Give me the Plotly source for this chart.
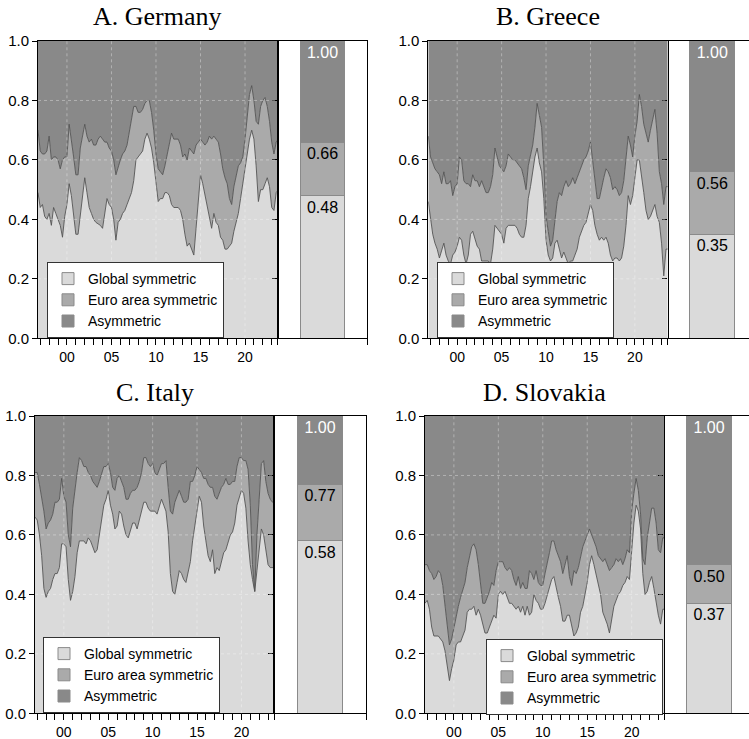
import plotly.graph_objects as go

# ---------------- data ----------------
quarters = [1996.75 + 0.25 * i for i in range(109)]
series_names = ["Global symmetric", "Euro area symmetric", "Asymmetric"]

# cumulative shares: global symmetric, global + euro area symmetric
de_global = [.49,.44,.45,.41,.40,.42,.38,.44,.42,.40,
             .38,.34,.41,.45,.52,.48,.41,.35,.35,.42,
             .48,.54,.49,.44,.42,.40,.39,.385,.38,.37,
             .42,.47,.45,.44,.40,.33,.39,.40,.42,.43,
             .45,.47,.49,.53,.60,.61,.62,.63,.67,.69,
             .67,.64,.59,.52,.46,.47,.47,.49,.49,.48,
             .45,.44,.44,.44,.43,.40,.35,.31,.32,.30,
             .28,.37,.46,.55,.52,.48,.45,.41,.37,.42,
             .39,.38,.34,.33,.30,.30,.31,.32,.36,.39,
             .42,.47,.52,.56,.62,.67,.70,.67,.58,.46,
             .50,.50,.52,.54,.51,.44,.43,.49,.50]
de_euro = [.70,.63,.62,.62,.63,.68,.60,.61,.61,.60,
           .57,.60,.61,.61,.72,.67,.61,.55,.55,.64,
           .68,.72,.68,.66,.67,.65,.65,.67,.68,.67,
           .66,.66,.64,.63,.60,.55,.58,.60,.62,.63,
           .65,.69,.74,.78,.78,.76,.76,.77,.79,.80,
           .80,.76,.70,.62,.57,.56,.55,.58,.62,.65,
           .69,.67,.67,.67,.65,.61,.62,.60,.64,.63,
           .62,.65,.66,.67,.66,.65,.66,.68,.67,.68,
           .67,.66,.62,.57,.54,.52,.47,.45,.51,.54,
           .58,.59,.61,.67,.75,.82,.85,.80,.73,.72,
           .78,.80,.81,.78,.73,.66,.62,.66,.67]
de_avg = [0.48, 0.66, 1.00]

gr_global = [.46,.41,.35,.32,.30,.27,.30,.32,.28,.26,
             .25,.28,.29,.31,.34,.33,.28,.25,.28,.35,
             .36,.33,.31,.30,.26,.26,.26,.26,.25,.30,
             .38,.37,.36,.35,.32,.37,.38,.38,.38,.38,
             .37,.35,.34,.34,.38,.47,.51,.57,.61,.64,
             .59,.56,.47,.33,.28,.26,.27,.32,.33,.30,
             .27,.29,.27,.25,.26,.26,.28,.30,.34,.36,
             .38,.39,.42,.45,.43,.38,.35,.33,.34,.33,
             .34,.32,.28,.26,.27,.27,.26,.27,.31,.38,
             .48,.45,.48,.54,.60,.60,.55,.49,.43,.40,
             .41,.43,.45,.41,.39,.32,.21,.30,.30]
gr_euro = [.68,.61,.59,.57,.56,.55,.52,.56,.52,.52,
           .53,.48,.51,.52,.61,.60,.53,.52,.52,.51,
           .55,.53,.53,.51,.53,.51,.49,.49,.51,.55,
           .64,.61,.58,.57,.56,.58,.62,.61,.60,.60,
           .59,.58,.57,.54,.50,.58,.61,.65,.71,.79,
           .75,.71,.58,.41,.36,.31,.33,.39,.46,.49,
           .48,.51,.53,.51,.52,.54,.52,.54,.56,.58,
           .60,.61,.63,.66,.60,.53,.47,.47,.51,.54,
           .57,.56,.54,.50,.51,.50,.48,.49,.53,.60,
           .68,.65,.61,.68,.73,.82,.78,.72,.69,.66,
           .70,.73,.77,.69,.56,.52,.45,.51,.51]
gr_avg = [0.35, 0.56, 1.00]

it_global = [.66,.65,.60,.53,.42,.39,.41,.42,.45,.47,
             .47,.49,.57,.57,.56,.45,.38,.41,.46,.54,
             .58,.58,.58,.57,.59,.58,.56,.54,.55,.60,
             .65,.70,.72,.75,.70,.67,.62,.63,.68,.67,
             .63,.60,.59,.62,.64,.64,.62,.65,.68,.71,
             .71,.69,.68,.68,.68,.67,.70,.72,.70,.68,
             .61,.47,.41,.40,.44,.48,.47,.45,.44,.47,
             .51,.58,.63,.68,.73,.71,.63,.58,.53,.51,
             .55,.47,.49,.48,.51,.54,.55,.58,.60,.61,
             .64,.70,.73,.75,.74,.69,.58,.50,.45,.41,
             .48,.54,.62,.60,.55,.50,.49,.49,.49]
it_euro = [.81,.81,.77,.73,.68,.62,.64,.65,.67,.71,
           .71,.72,.79,.73,.71,.60,.56,.69,.76,.81,
           .86,.85,.83,.83,.81,.80,.78,.77,.76,.78,
           .81,.83,.83,.84,.81,.76,.75,.79,.80,.78,
           .76,.72,.72,.74,.75,.75,.76,.78,.81,.86,
           .86,.84,.83,.84,.81,.80,.82,.84,.84,.85,
           .76,.68,.67,.71,.73,.75,.73,.71,.71,.72,
           .78,.78,.80,.83,.82,.81,.79,.79,.77,.76,
           .76,.73,.72,.74,.76,.77,.79,.77,.77,.78,
           .78,.83,.86,.86,.85,.85,.82,.70,.50,.41,
           .60,.72,.84,.85,.78,.74,.72,.71,.71]
it_avg = [0.58, 0.77, 1.00]

sk_global = [.37,.38,.35,.29,.26,.26,.26,.25,.24,.21,
             .16,.11,.15,.18,.23,.24,.24,.26,.28,.34,
             .35,.35,.36,.33,.35,.33,.30,.27,.27,.29,
             .31,.33,.32,.40,.41,.40,.41,.39,.37,.37,
             .36,.35,.36,.34,.36,.33,.36,.33,.34,.40,
             .38,.37,.35,.35,.37,.40,.42,.45,.46,.42,
             .39,.36,.31,.31,.33,.33,.29,.26,.27,.29,
             .34,.36,.40,.44,.50,.53,.50,.47,.44,.40,
             .34,.32,.30,.27,.32,.36,.38,.40,.41,.43,
             .44,.46,.45,.56,.64,.70,.68,.62,.47,.40,
             .41,.44,.46,.42,.37,.33,.30,.35,.35]
sk_euro = [.50,.50,.48,.47,.45,.46,.48,.47,.43,.37,
           .30,.23,.25,.29,.33,.36,.39,.42,.44,.49,
           .52,.56,.57,.55,.50,.43,.37,.37,.39,.41,
           .44,.43,.48,.51,.51,.51,.49,.48,.49,.48,
           .45,.43,.46,.42,.44,.42,.42,.48,.47,.45,
           .48,.44,.43,.43,.47,.50,.54,.58,.58,.55,
           .53,.51,.47,.50,.53,.46,.43,.48,.47,.49,
           .53,.56,.58,.60,.62,.60,.58,.56,.53,.52,
           .51,.52,.50,.48,.49,.50,.52,.51,.52,.50,
           .52,.55,.54,.68,.74,.79,.75,.67,.52,.50,
           .59,.65,.69,.69,.64,.55,.54,.59,.59]
sk_avg = [0.37, 0.50, 1.00]

panel_titles = ["A. Germany", "B. Greece", "C. Italy", "D. Slovakia"]
year_ticks = list(range(1997, 2024))
year_labels = [f"{y % 100:02d}" if y % 5 == 0 else "" for y in year_ticks]
share_ticks = [0.0, 0.2, 0.4, 0.6, 0.8, 1.0]

# ---------------- style ----------------
C_LIGHT, C_MID, C_DARK = "#dadada", "#aaaaaa", "#898989"
EDGE = "#545454"
SANS = "Liberation Sans"
SERIF = "Liberation Serif"
W, H = 749, 739

panels = [
    dict(title=panel_titles[0], g=de_global, e=de_euro, avg=de_avg,
         main=(38.0, 277.7), side=(277.7, 367.3), srange=[-1, 1], row=0,
         leg=(47, 262), sidebox=True, bw=1.0),
    dict(title=panel_titles[1], g=gr_global, e=gr_euro, avg=gr_avg,
         main=(428.3, 667.5), side=(667.5, 749.0), srange=[-1, 0.82], row=0,
         leg=(437, 262), sidebox=False, bw=1.0),
    dict(title=panel_titles[2], g=it_global, e=it_euro, avg=it_avg,
         main=(35.0, 274.0), side=(274.0, 366.0), srange=[-1, 1], row=1,
         leg=(43, 637), sidebox=True, bw=0.96),
    dict(title=panel_titles[3], g=sk_global, e=sk_euro, avg=sk_avg,
         main=(425.0, 664.3), side=(664.3, 749.0), srange=[-1, 0.89], row=1,
         leg=(486, 639), sidebox=False, bw=1.0),
]
rows_px = [(41.0, 338.3), (416.0, 713.3)]
title_y_px = [17, 392]

fig = go.Figure()
layout = dict(width=W, height=H, margin=dict(l=0, r=0, t=0, b=0, autoexpand=False),
              paper_bgcolor="white", plot_bgcolor="white",
              barmode="stack", showlegend=True, shapes=[], annotations=[])

def px_x(v):
    return v / W

def px_y(v):
    return 1 - v / H

for i, p in enumerate(panels):
    mi = 2 * i + 1
    si = 2 * i + 2
    mx = "x" if mi == 1 else f"x{mi}"
    my = "y" if mi == 1 else f"y{mi}"
    sx, sy = f"x{si}", f"y{si}"
    legname = "legend" if i == 0 else f"legend{i + 1}"
    top, bot = rows_px[p["row"]]
    ydom = [px_y(bot), px_y(top)]

    total = [1.0 for _ in quarters]
    fig.add_trace(go.Scatter(x=quarters, y=p["g"], xaxis=mx, yaxis=my, mode="lines",
                             line=dict(color=EDGE, width=0.9), fill="tozeroy",
                             fillcolor=C_LIGHT, showlegend=False, hoverinfo="skip"))
    fig.add_trace(go.Scatter(x=quarters, y=p["e"], xaxis=mx, yaxis=my, mode="lines",
                             line=dict(color=EDGE, width=0.9), fill="tonexty",
                             fillcolor=C_MID, showlegend=False, hoverinfo="skip"))
    fig.add_trace(go.Scatter(x=quarters, y=total, xaxis=mx, yaxis=my, mode="lines",
                             line=dict(color=C_DARK, width=0), fill="tonexty",
                             fillcolor=C_DARK, showlegend=False, hoverinfo="skip"))

    # side bar: average shares (cumulative)
    prev = 0.0
    cols = [C_LIGHT, C_MID, C_DARK]
    tcols = ["black", "black", "white"]
    for k, cum in enumerate(p["avg"]):
        fig.add_trace(go.Bar(x=[0], y=[cum - prev], base=[prev], xaxis=sx, yaxis=sy,
                             width=p["bw"], name=series_names[k], legend=legname,
                             marker=dict(color=cols[k], line=dict(color="#8a8a8a", width=1)),
                             text=[f"{cum:.2f}"], textposition="inside",
                             insidetextanchor="end", textangle=0,
                             textfont=dict(family=SANS, size=16, color=tcols[k]),
                             hoverinfo="skip"))
        prev = cum

    axis_common = dict(showgrid=False, zeroline=False, linecolor="black", linewidth=1,
                       ticks="outside", tickcolor="black", tickwidth=1, automargin=False)
    layout[("xaxis" if mi == 1 else f"xaxis{mi}")] = dict(
        axis_common, domain=[px_x(p["main"][0]), px_x(p["main"][1])], anchor=my,
        range=[1996.75, 2023.67], tickmode="array", tickvals=year_ticks,
        ticktext=year_labels, ticklen=6, showline=True, mirror=True,
        tickfont=dict(family=SANS, size=14, color="black"))
    layout[("yaxis" if mi == 1 else f"yaxis{mi}")] = dict(
        axis_common, domain=ydom, anchor=mx, range=[0, 1], tickmode="array",
        tickvals=share_ticks, tickformat=".1f", ticklen=5, showline=True, mirror=True,
        tickfont=dict(family=SANS, size=15, color="black"))
    layout[f"xaxis{si}"] = dict(
        axis_common, domain=[px_x(p["side"][0]), px_x(p["side"][1])], anchor=sy,
        range=p["srange"], tickmode="array",
        tickvals=[p["srange"][0], p["srange"][1]] if p["sidebox"] else [p["srange"][0]],
        showticklabels=False, ticklen=6, showline=True, mirror=True)
    layout[f"yaxis{si}"] = dict(
        axis_common, domain=ydom, anchor=sx, range=[0, 1], tickmode="array",
        tickvals=share_ticks[1:-1], showticklabels=False, ticklen=5,
        showline=p["sidebox"], mirror=True)

    # dashed grid drawn above the areas
    for yv in share_ticks[1:-1]:
        layout["shapes"].append(dict(type="line", xref=f"{mx} domain", yref=my,
                                     x0=0, x1=1, y0=yv, y1=yv, layer="above",
                                     line=dict(color="rgba(255,255,255,0.35)", width=1,
                                               dash="3px,3px")))
    for xv in year_ticks:
        if xv % 5 == 0:
            layout["shapes"].append(dict(type="line", xref=mx, yref=f"{my} domain",
                                         x0=xv, x1=xv, y0=0, y1=1, layer="above",
                                         line=dict(color="rgba(255,255,255,0.35)", width=1,
                                                   dash="3px,3px")))

    layout[legname] = dict(x=px_x(p["leg"][0]), y=px_y(p["leg"][1]), xanchor="left",
                           yanchor="top", bgcolor="white", bordercolor="#333333",
                           borderwidth=1, traceorder="normal",
                           font=dict(family=SANS, size=14, color="black"),
                           itemclick=False, itemdoubleclick=False)

    layout["annotations"].append(dict(
        text=p["title"], xref="paper", yref="paper",
        x=px_x((p["main"][0] + p["main"][1]) / 2), y=px_y(title_y_px[p["row"]]),
        xanchor="center", yanchor="middle", showarrow=False,
        font=dict(family=SERIF, size=26, color="black")))

fig.update_layout(**layout)
fig.write_html("out.html")
